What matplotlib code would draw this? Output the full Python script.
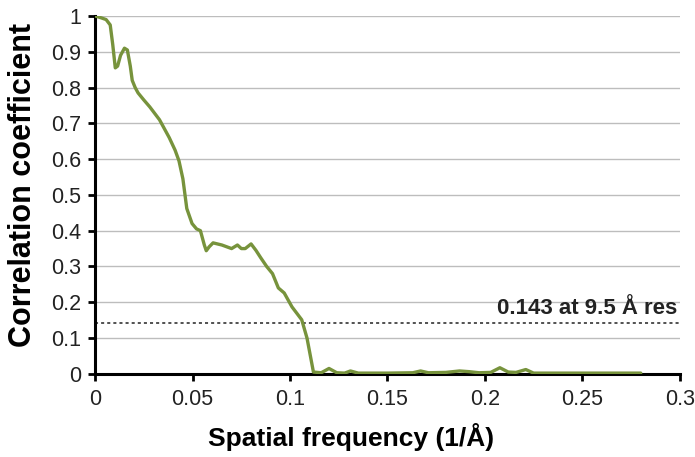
import matplotlib.pyplot as plt
import numpy as np

plt.rcParams['font.family'] = ['Liberation Sans', 'DejaVu Sans']

# FSC curve
freq = [0.0, 0.003, 0.0056, 0.0077, 0.009, 0.0103, 0.0115, 0.013, 0.015, 0.0165,
        0.018, 0.019, 0.0205, 0.022, 0.025, 0.028, 0.033, 0.038, 0.041, 0.043,
        0.045, 0.047, 0.0497, 0.052, 0.054, 0.056, 0.057, 0.0585, 0.0605, 0.065,
        0.070, 0.073, 0.075, 0.077, 0.080, 0.0825, 0.085, 0.088, 0.091, 0.094,
        0.097, 0.101, 0.106, 0.1087, 0.112, 0.116, 0.12, 0.124, 0.128, 0.131,
        0.135, 0.15, 0.163, 0.167, 0.171, 0.18, 0.187, 0.192, 0.197, 0.203,
        0.2077, 0.212, 0.216, 0.221, 0.225, 0.24, 0.26, 0.28]
fsc = [1.0, 0.995, 0.99, 0.975, 0.92, 0.855, 0.86, 0.89, 0.91, 0.905,
       0.86, 0.82, 0.80, 0.785, 0.765, 0.746, 0.71, 0.66, 0.625, 0.595,
       0.545, 0.462, 0.42, 0.405, 0.40, 0.36, 0.344, 0.355, 0.366, 0.36,
       0.35, 0.36, 0.35, 0.35, 0.363, 0.345, 0.324, 0.30, 0.28, 0.24,
       0.226, 0.187, 0.151, 0.10, 0.005, 0.003, 0.015, 0.003, 0.002, 0.008,
       0.002, 0.002, 0.003, 0.008, 0.003, 0.004, 0.008, 0.006, 0.003, 0.004,
       0.017, 0.005, 0.004, 0.012, 0.002, 0.002, 0.002, 0.002]

threshold = 0.143
label = "0.143 at 9.5 Å res"

fig = plt.figure(figsize=(6.95, 4.57), dpi=100)
ax = fig.add_axes([0.137, 0.182, 0.841, 0.783])

ax.set_xlim(0, 0.3)
ax.set_ylim(0, 1)
ax.set_yticks(np.arange(0, 1.01, 0.1))
ax.set_yticklabels(['0', '0.1', '0.2', '0.3', '0.4', '0.5', '0.6', '0.7', '0.8', '0.9', '1'])
ax.set_xticks(np.arange(0, 0.301, 0.05))
ax.set_xticklabels(['0', '0.05', '0.1', '0.15', '0.2', '0.25', '0.3'])

# horizontal grid
ax.grid(axis='y', color='#bdbdbd', linewidth=1)
ax.set_axisbelow(True)

ax.plot(freq, fsc, color='#77933C', linewidth=2.4, solid_joinstyle='round',
        solid_capstyle='round', zorder=3)
ax.axhline(threshold, color='#222222', linestyle=(0, (2, 2)), linewidth=1.1, zorder=2)
ax.text(0.2985, threshold + 0.01, label, ha='right', va='bottom',
        fontsize=16, fontweight='bold', color='#222222')

for side in ['top', 'right']:
    ax.spines[side].set_visible(False)
for side in ['left', 'bottom']:
    ax.spines[side].set_linewidth(2.2)
    ax.spines[side].set_color('black')
ax.tick_params(axis='both', direction='out', length=5, width=2, labelsize=15.5,
               colors='black', labelcolor='#222222')
ax.tick_params(axis='y', pad=5)
ax.tick_params(axis='x', pad=6)

ax.set_xlabel("Spatial frequency (1/Å)", fontsize=19, fontweight='bold', va='center')
ax.set_ylabel("Correlation coefficient", fontsize=22, fontweight='bold', va='center')
ax.xaxis.set_label_coords(0.438, -0.176)
ax.yaxis.set_label_coords(-0.123, 0.528)

fig.savefig("out.png", dpi=100)
